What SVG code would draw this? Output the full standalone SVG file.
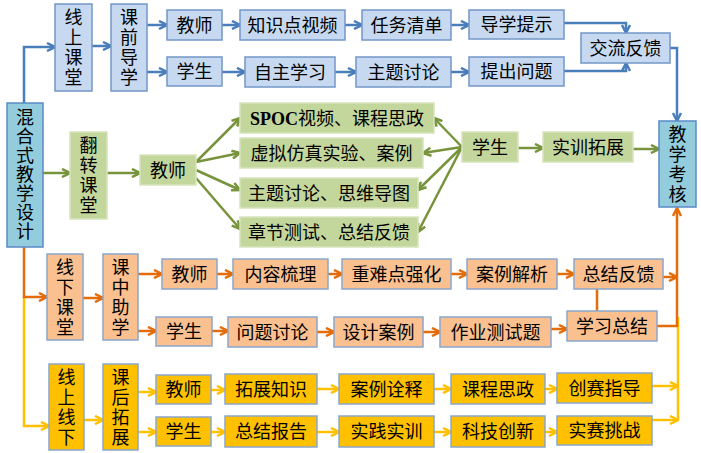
<svg xmlns="http://www.w3.org/2000/svg" width="701" height="453" viewBox="0 0 701 453">
<style>
text{font-family:"Liberation Serif","Noto Sans CJK SC",serif;font-size:18px;fill:#000;text-anchor:middle}
.b{fill:#C6D9F1;stroke:#7396C8;stroke-width:1.5}
.t{fill:#93CDDD;stroke:#5A8AC6;stroke-width:1.5}
.g{fill:#C3D69B;stroke:#D7E4BD;stroke-width:1.5}
.o{fill:#FAC090;stroke:#8AA6CC;stroke-width:1.5}
.y{fill:#FFC000;stroke:#8AA6CC;stroke-width:1.5}
.cb{fill:none;stroke:#4A7EBB;stroke-width:2.5}
.cg{fill:none;stroke:#77933C;stroke-width:2.5}
.co{fill:none;stroke:#E46C0A;stroke-width:2.5}
.cy{fill:none;stroke:#FFC000;stroke-width:2.5}
.ab{marker-end:url(#mb)}.ag{marker-end:url(#mg)}.ao{marker-end:url(#mo)}.ay{marker-end:url(#my)}
</style>
<defs>
<marker id="mb" markerUnits="userSpaceOnUse" viewBox="0 0 10 10" refX="9" refY="5" markerWidth="10" markerHeight="10" orient="auto"><path d="M1,1 L9,5 L1,9" fill="none" stroke="#4A7EBB" stroke-width="2.5"/></marker>
<marker id="mg" markerUnits="userSpaceOnUse" viewBox="0 0 10 10" refX="9" refY="5" markerWidth="10" markerHeight="10" orient="auto"><path d="M1,1 L9,5 L1,9" fill="none" stroke="#77933C" stroke-width="2.5"/></marker>
<marker id="mo" markerUnits="userSpaceOnUse" viewBox="0 0 10 10" refX="9" refY="5" markerWidth="10" markerHeight="10" orient="auto"><path d="M1,1 L9,5 L1,9" fill="none" stroke="#E46C0A" stroke-width="2.5"/></marker>
<marker id="my" markerUnits="userSpaceOnUse" viewBox="0 0 10 10" refX="9" refY="5" markerWidth="10" markerHeight="10" orient="auto"><path d="M1,1 L9,5 L1,9" fill="none" stroke="#FFC000" stroke-width="2.5"/></marker>
</defs>
<g id="connectors">
<path class="cb ab" d="M24,103 V47 H55"/>
<path class="cb ab" d="M92,46 H111"/>
<path class="cb ab" d="M147,25 H167"/>
<path class="cb ab" d="M147,72 H167"/>
<path class="cb ab" d="M222,25 H240"/>
<path class="cb ab" d="M222,72 H245"/>
<path class="cb ab" d="M345,25 H362"/>
<path class="cb ab" d="M335,72 H356"/>
<path class="cb ab" d="M451,25 H469"/>
<path class="cb ab" d="M451,72 H469"/>
<path class="cb ab" d="M564,23 H626 V33"/>
<path class="cb ab" d="M564,71 H626 V63"/>
<path class="cb ab" d="M670,48 H677 V121"/>
<path class="cg ag" d="M43,173 H70"/>
<path class="cg ag" d="M107,173 H140"/>
<path class="cg ag" d="M196,162 L240,118"/>
<path class="cg ag" d="M196,162 L240,153"/>
<path class="cg ag" d="M196,170 L240,190"/>
<path class="cg ag" d="M196,178 L240,229"/>
<path class="cg ag" d="M462,147 L434,118"/>
<path class="cg ag" d="M462,147 L423,153"/>
<path class="cg ag" d="M462,147 L418,190"/>
<path class="cg ag" d="M462,147 L418,232"/>
<path class="cg ag" d="M518,148 H543"/>
<path class="cg ag" d="M633,149 H659"/>
<path class="cy ay" d="M24,297 V426 H49"/>
<path class="co ao" d="M24,247 V297 H47"/>
<path class="co ao" d="M83,298 H103"/>
<path class="co ao" d="M138,274 H162"/>
<path class="co ao" d="M138,331 H156"/>
<path class="co ao" d="M217,274 H233"/>
<path class="co ao" d="M328,274 H342"/>
<path class="co ao" d="M451,274 H467"/>
<path class="co ao" d="M557,274 H574"/>
<path class="co ao" d="M663,277 H677"/>
<path class="co ao" d="M212,331 H228"/>
<path class="co ao" d="M317,332 H334"/>
<path class="co ao" d="M423,332 H440"/>
<path class="co ao" d="M551,329 H567"/>
<path class="co" d="M597,289 V311"/>
<path class="cy" d="M678,317 V420"/>
<path class="co ao" d="M657,326 H677 V208"/>
<path class="cy ay" d="M84,420 H103"/>
<path class="cy ay" d="M138,392 H156"/>
<path class="cy ay" d="M138,432 H156"/>
<path class="cy ay" d="M211,390 H225"/>
<path class="cy ay" d="M317,389 H339"/>
<path class="cy ay" d="M434,389 H451"/>
<path class="cy ay" d="M545,389 H557"/>
<path class="cy ay" d="M211,432 H225"/>
<path class="cy ay" d="M317,432 H339"/>
<path class="cy ay" d="M434,432 H451"/>
<path class="cy ay" d="M545,432 H557"/>
<path class="cy ay" d="M652,386 H678"/>
<path class="cy ay" d="M652,420 H678"/>
</g>
<g id="n-hunhe"><rect class="t" x="7" y="103" width="36" height="144"/><text x="25"><tspan x="25" y="124">混</tspan><tspan x="25" y="143">合</tspan><tspan x="25" y="162">式</tspan><tspan x="25" y="181">教</tspan><tspan x="25" y="200">学</tspan><tspan x="25" y="219">设</tspan><tspan x="25" y="238">计</tspan></text></g>
<g id="n-kaohe"><rect class="t" x="659" y="121" width="37" height="86"/><text><tspan x="677.5" y="141">教</tspan><tspan x="677.5" y="161">学</tspan><tspan x="677.5" y="181">考</tspan><tspan x="677.5" y="201">核</tspan></text></g>
<g id="n-xianshang"><rect class="b" x="55" y="4" width="37" height="87"/><text><tspan x="73.5" y="24">线</tspan><tspan x="73.5" y="44">上</tspan><tspan x="73.5" y="64">课</tspan><tspan x="73.5" y="84">堂</tspan></text></g>
<g id="n-kebqian"><rect class="b" x="111" y="4" width="36" height="87"/><text><tspan x="129" y="24">课</tspan><tspan x="129" y="44">前</tspan><tspan x="129" y="64">导</tspan><tspan x="129" y="84">学</tspan></text></g>
<g id="n-b-jiaoshi"><rect class="b" x="167" y="10" width="55" height="30"/><text x="194.5" y="31.5">教师</text></g>
<g id="n-b-xuesheng"><rect class="b" x="167" y="57" width="55" height="29"/><text x="194.5" y="78">学生</text></g>
<g id="n-zhishi"><rect class="b" x="240" y="10" width="105" height="30"/><text x="292.5" y="31.5">知识点视频</text></g>
<g id="n-renwu"><rect class="b" x="362" y="10" width="89" height="30"/><text x="406.5" y="31.5">任务清单</text></g>
<g id="n-daoxue"><rect class="b" x="469" y="10" width="95" height="29"/><text x="516.5" y="31">导学提示</text></g>
<g id="n-zizhu"><rect class="b" x="245" y="57" width="90" height="30"/><text x="290" y="78.5">自主学习</text></g>
<g id="n-b-zhuti"><rect class="b" x="356" y="57" width="95" height="30"/><text x="403.5" y="78.5">主题讨论</text></g>
<g id="n-tichu"><rect class="b" x="469" y="57" width="95" height="29"/><text x="516.5" y="78">提出问题</text></g>
<g id="n-jiaoliu"><rect class="b" x="581" y="33" width="89" height="30"/><text x="625.5" y="54.5">交流反馈</text></g>
<g id="n-fanzhuan"><rect class="g" x="70" y="132" width="37" height="87"/><text><tspan x="88.5" y="152">翻</tspan><tspan x="88.5" y="172">转</tspan><tspan x="88.5" y="192">课</tspan><tspan x="88.5" y="212">堂</tspan></text></g>
<g id="n-g-jiaoshi"><rect class="g" x="140" y="155" width="56" height="30"/><text x="168" y="176.5">教师</text></g>
<g id="n-spoc"><rect class="g" x="240" y="103" width="194" height="30"/><text x="337" y="124.5"><tspan font-weight="bold">SPOC</tspan>视频、课程思政</text></g>
<g id="n-xuni"><rect class="g" x="240" y="138" width="183" height="30"/><text x="331.5" y="159.5">虚拟仿真实验、案例</text></g>
<g id="n-g-zhuti"><rect class="g" x="240" y="178" width="178" height="30"/><text x="329" y="199.5">主题讨论、思维导图</text></g>
<g id="n-zhangjie"><rect class="g" x="240" y="217" width="178" height="30"/><text x="329" y="238.5">章节测试、总结反馈</text></g>
<g id="n-g-xuesheng"><rect class="g" x="462" y="132" width="56" height="30"/><text x="490" y="153.5">学生</text></g>
<g id="n-shixun"><rect class="g" x="543" y="132" width="90" height="30"/><text x="588" y="153.5">实训拓展</text></g>
<g id="n-xianxia"><rect class="o" x="47" y="254" width="36" height="86"/><text><tspan x="65" y="274">线</tspan><tspan x="65" y="294">下</tspan><tspan x="65" y="314">课</tspan><tspan x="65" y="334">堂</tspan></text></g>
<g id="n-kezhong"><rect class="o" x="103" y="254" width="35" height="86"/><text><tspan x="120.5" y="274">课</tspan><tspan x="120.5" y="294">中</tspan><tspan x="120.5" y="314">助</tspan><tspan x="120.5" y="334">学</tspan></text></g>
<g id="n-o-jiaoshi"><rect class="o" x="162" y="259" width="55" height="30"/><text x="189.5" y="280.5">教师</text></g>
<g id="n-neirong"><rect class="o" x="233" y="259" width="95" height="30"/><text x="280.5" y="280.5">内容梳理</text></g>
<g id="n-zhongnan"><rect class="o" x="342" y="259" width="109" height="30"/><text x="396.5" y="280.5">重难点强化</text></g>
<g id="n-anli"><rect class="o" x="467" y="259" width="90" height="30"/><text x="512" y="280.5">案例解析</text></g>
<g id="n-zongjie"><rect class="o" x="574" y="259" width="89" height="30"/><text x="618.5" y="280.5">总结反馈</text></g>
<g id="n-o-xuesheng"><rect class="o" x="156" y="317" width="56" height="29"/><text x="184" y="338">学生</text></g>
<g id="n-wenti"><rect class="o" x="228" y="317" width="89" height="30"/><text x="272.5" y="338.5">问题讨论</text></g>
<g id="n-sheji"><rect class="o" x="334" y="317" width="89" height="30"/><text x="378.5" y="338.5">设计案例</text></g>
<g id="n-zuoye"><rect class="o" x="440" y="317" width="111" height="30"/><text x="495.5" y="338.5">作业测试题</text></g>
<g id="n-xuexi"><rect class="o" x="567" y="311" width="90" height="30"/><text x="612" y="332.5">学习总结</text></g>
<g id="n-xsxx"><rect class="y" x="49" y="364" width="35" height="86"/><text><tspan x="66.5" y="384">线</tspan><tspan x="66.5" y="404">上</tspan><tspan x="66.5" y="424">线</tspan><tspan x="66.5" y="444">下</tspan></text></g>
<g id="n-kehou"><rect class="y" x="103" y="364" width="35" height="86"/><text><tspan x="120.5" y="384">课</tspan><tspan x="120.5" y="404">后</tspan><tspan x="120.5" y="424">拓</tspan><tspan x="120.5" y="444">展</tspan></text></g>
<g id="n-y-jiaoshi"><rect class="y" x="156" y="375" width="55" height="29"/><text x="183.5" y="396">教师</text></g>
<g id="n-tuozhan"><rect class="y" x="225" y="374" width="92" height="30"/><text x="271" y="395.5">拓展知识</text></g>
<g id="n-quanshi"><rect class="y" x="339" y="374" width="95" height="30"/><text x="386.5" y="395.5">案例诠释</text></g>
<g id="n-sizheng"><rect class="y" x="451" y="374" width="94" height="30"/><text x="498" y="395.5">课程思政</text></g>
<g id="n-chuangsai"><rect class="y" x="557" y="373" width="95" height="30"/><text x="604.5" y="394.5">创赛指导</text></g>
<g id="n-y-xuesheng"><rect class="y" x="156" y="417" width="55" height="29"/><text x="183.5" y="438">学生</text></g>
<g id="n-baogao"><rect class="y" x="225" y="416" width="92" height="31"/><text x="271" y="438">总结报告</text></g>
<g id="n-shijian"><rect class="y" x="339" y="416" width="95" height="31"/><text x="386.5" y="438">实践实训</text></g>
<g id="n-keji"><rect class="y" x="451" y="416" width="94" height="31"/><text x="498" y="438">科技创新</text></g>
<g id="n-shisai"><rect class="y" x="557" y="416" width="95" height="29"/><text x="604.5" y="437">实赛挑战</text></g>
</svg>
